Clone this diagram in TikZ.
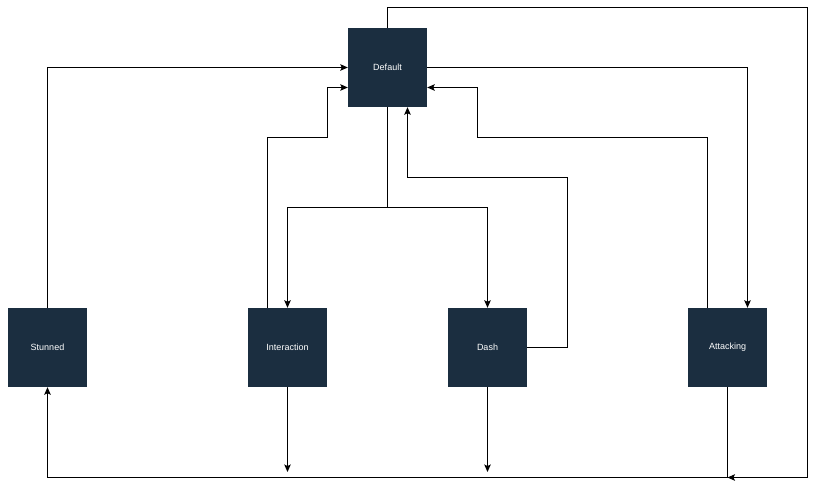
\documentclass[tikz,border=0pt]{standalone}
\usepackage{fontspec}
\setmainfont{Liberation Sans}
\usetikzlibrary{arrows.meta,calc}
\definecolor{navy}{HTML}{1B2E40}
\begin{document}
\begin{tikzpicture}[x=1pt,y=-1pt,
  state/.style={draw=none,fill=navy,minimum width=79pt,minimum height=79pt,inner sep=0pt,
    text=white,font=\fontsize{9}{10}\selectfont},
  conn/.style={draw=black,line width=1pt,-{Stealth[length=7.5pt,width=6.5pt,inset=1.5pt]}},
  plain/.style={draw=black,line width=1pt}]
\fill[white] (0,0) rectangle (816,486);
\useasboundingbox (0,0) rectangle (816,486);
\node[state] (De) at (387.5,67.5) {Default};
\node[state] (St) at (47.5,347.5) {Stunned};
\node[state] (In) at (287.5,347.5) {Interaction};
\node[state] (Da) at (487.5,347.5) {Dash};
\node[state] (At) at (727.5,347.5) {Attacking};
\coordinate (split) at (387.5,207.5);
\coordinate (bot) at (727.5,477.5);
% Stunned -> Default
\draw[conn] (St.north) |- (De.west);
% Interaction -> Default
\draw[conn] ([xshift=-20pt]In.north) |- (327.5,137.5) |- ([yshift=-20pt]De.west);
% Default -> Interaction / Dash
\draw[plain] (De.south) -- (split);
\draw[conn] (split) -| (In.north);
\draw[conn] (split) -| (Da.north);
% Dash -> Default
\draw[conn] (Da.east) -| (567.5,177.5) -| ([xshift=20pt]De.south);
% Attacking -> Default
\draw[conn] ([xshift=-20pt]At.north) |- (477.5,137.5) |- ([yshift=-20pt]De.east);
% Default -> Attacking
\draw[conn] (De.east) -| ([xshift=20pt]At.north);
% Default top loop -> bottom
\draw[conn] (De.north) |- (807.5,7.5) |- (bot);
% Attacking -> Stunned
\draw[conn] (At.south) -- (bot) -| (St.south);
% Interaction, Dash down
\draw[conn] (In.south) -- (In.south |- 0,472);
\draw[conn] (Da.south) -- (Da.south |- 0,472);
\end{tikzpicture}
\end{document}
